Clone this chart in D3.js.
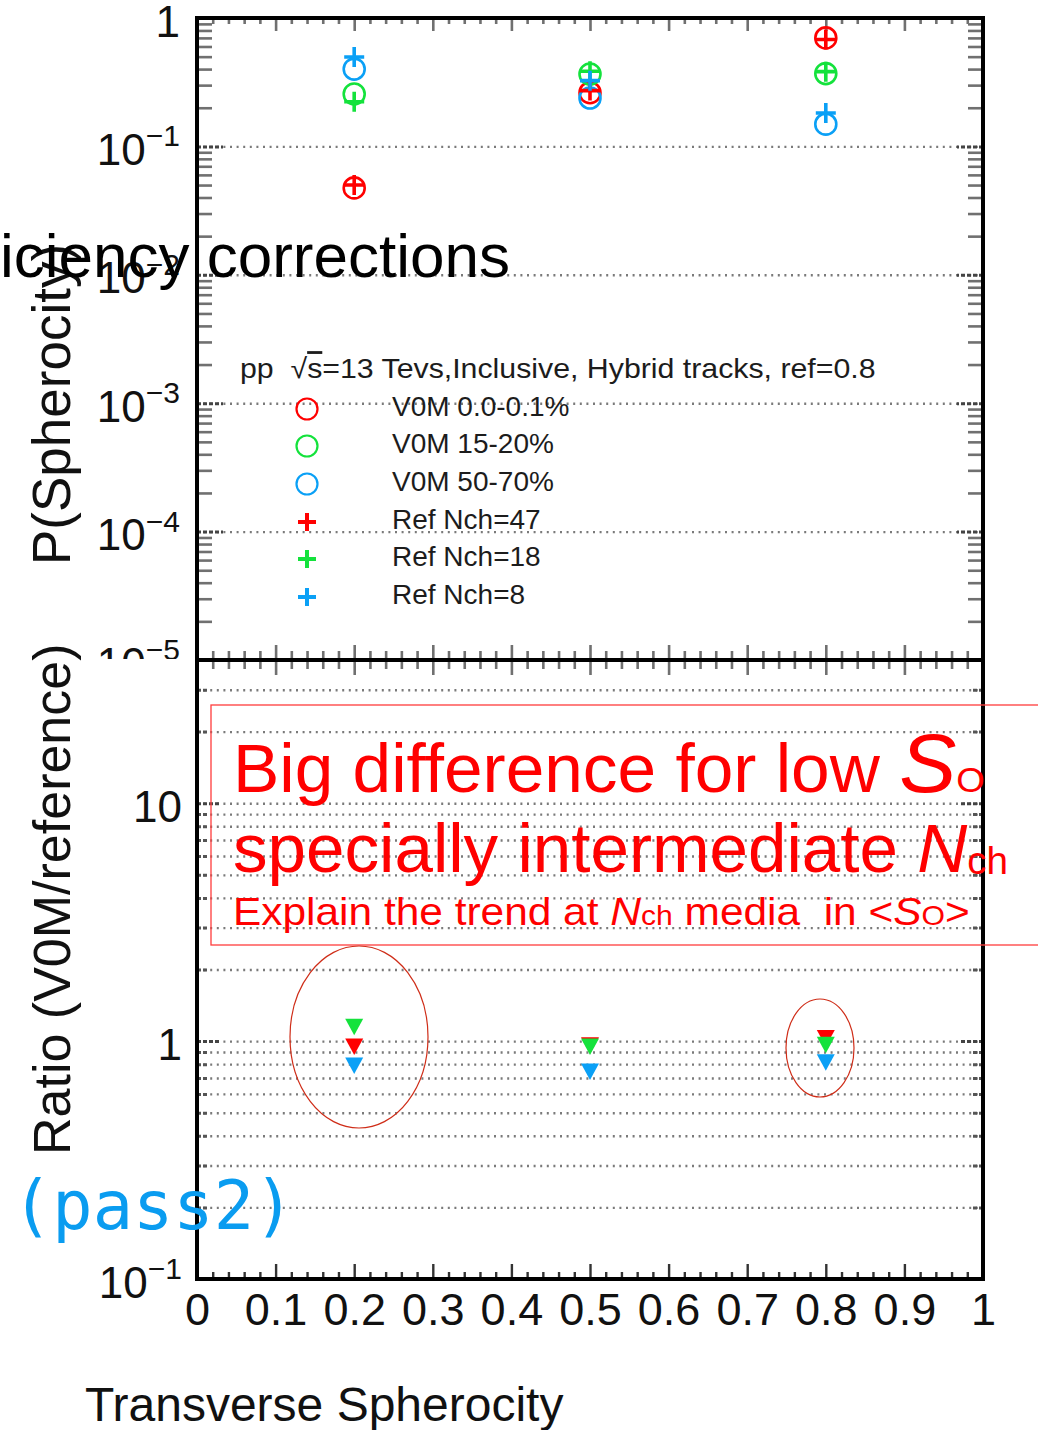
<!DOCTYPE html>
<html>
<head>
<meta charset="utf-8">
<script src="https://cdn.jsdelivr.net/npm/d3@7"></script>
<style>
  html, body { margin: 0; padding: 0; background: #fff; }
  svg { display: block; }
  text { font-family: "Liberation Sans", Arial, Helvetica, sans-serif; }
</style>
</head>
<body>
<svg id="chart" width="1038" height="1430"></svg>
<script>
// ---- data ----------------------------------------------------------------
const spherocity = [0.2, 0.5, 0.8];

// P(Spherocity) for the V0M multiplicity classes (open circles)
const pV0M_0_01  = [0.0475, 0.262, 0.700];
const pV0M_15_20 = [0.256, 0.366, 0.369];
const pV0M_50_70 = [0.400, 0.238, 0.149];

// P(Spherocity) for the reference Nch selections (crosses)
const pRefNch47 = [0.050, 0.272, 0.680];
const pRefNch18 = [0.223, 0.385, 0.382];
const pRefNch8  = [0.497, 0.325, 0.182];

// Ratio V0M / reference (full down triangles)
const ratio_0_01  = [0.95, 0.96, 1.03];
const ratio_15_20 = [1.15, 0.95, 0.966];
const ratio_50_70 = [0.79, 0.745, 0.815];

const legendHeader = "Tevs,Inclusive, Hybrid tracks, ref=0.8";
const v0mLabels = ["V0M 0.0-0.1%", "V0M 15-20%", "V0M 50-70%"];
const refLabels = ["Ref Nch=47", "Ref Nch=18", "Ref Nch=8"];

const xTickValues = [0, 0.1, 0.2, 0.3, 0.4, 0.5, 0.6, 0.7, 0.8, 0.9, 1];
const xTickLabels = ["0", "0.1", "0.2", "0.3", "0.4", "0.5", "0.6", "0.7", "0.8", "0.9", "1"];
const topDecades = [1e-5, 1e-4, 1e-3, 1e-2, 1e-1, 1];
const botDecades = [0.1, 1, 10];

// ---- layout & styles -----------------------------------------------------
const X0 = 197, X1 = 983, T0 = 18, T1 = 660, B1 = 1279;
const RED = "#ff0000", GREEN = "#14e23c", BLUE = "#0aa0f6";
const GRID = "#7a7a7a", TICK = "#707070";

const svg = d3.select("#chart");
const x = d3.scaleLinear().domain([0, 1]).range([X0, X1]);
const yTop = d3.scaleLog().domain([1e-5, 1]).range([T1, T0]);
const yBot = d3.scaleLog().domain([0.1, 40]).range([B1, T1]);

function minorsBetween(lo, hi) {
  const out = [];
  for (let e = Math.floor(Math.log10(lo)); e <= Math.ceil(Math.log10(hi)); e++) {
    for (let k = 2; k <= 9; k++) {
      const v = k * Math.pow(10, e);
      if (v > lo * 1.0001 && v < hi * 0.9999) out.push(v);
    }
  }
  return out;
}
const xMinor = d3.range(1, 50).map(i => i / 50).filter((v, i) => (i + 1) % 5 !== 0);

function styleTicks(g, color, width, dash) {
  g.select(".domain").remove();
  g.selectAll(".tick text").remove();
  g.selectAll(".tick line").attr("stroke", color).attr("stroke-width", width)
    .attr("stroke-dasharray", dash || null);
}
function addAxis(axis, tx, ty, color, width, dash) {
  return svg.append("g").attr("transform", `translate(${tx},${ty})`)
    .call(axis).call(g => styleTicks(g, color, width, dash));
}
function logLabels(axis, tx, fontSize, supSize) {
  svg.append("g").attr("transform", `translate(${tx},0)`).call(axis)
    .call(g => {
      g.attr("font-size", null).attr("font-family", null);
      g.select(".domain").remove();
      g.selectAll(".tick line").remove();
      g.selectAll(".tick text").each(function (d) {
        const t = d3.select(this);
        const e = Math.round(Math.log10(d));
        t.text(null).attr("font-size", fontSize).attr("fill", "#111").attr("dy", "0.41em");
        if (e === 0) t.text("1");
        else if (e === 1) t.text("10");
        else {
          t.append("tspan").text("10");
          t.append("tspan").attr("font-size", supSize).attr("dy", -0.42 * fontSize).text("\u2212" + (-e));
        }
      });
    });
}

// ---- top pad: P(Spherocity) ----------------------------------------------
// dotted grid at the decades
addAxis(d3.axisRight(yTop).tickValues(topDecades.slice(1, -1)).tickSize(X1 - X0).tickFormat(""),
        X0, 0, GRID, 2.4, "2,4.6");
// y ticks, left and right
const topMinor = minorsBetween(1e-5, 1);
addAxis(d3.axisRight(yTop).tickValues(topMinor).tickSize(15).tickFormat(""), X0, 0, TICK, 2.6);
addAxis(d3.axisRight(yTop).tickValues(topDecades).tickSize(26).tickFormat(""), X0, 0, "#444", 3, "4,2");
addAxis(d3.axisLeft(yTop).tickValues(topMinor).tickSize(15).tickFormat(""), X1, 0, TICK, 2.6);
addAxis(d3.axisLeft(yTop).tickValues(topDecades).tickSize(26).tickFormat(""), X1, 0, "#444", 3, "4,2");
// x ticks, top edge and bottom edge of the pad
addAxis(d3.axisBottom(x).tickValues(xTickValues).tickSize(13).tickFormat(""), 0, T0, TICK, 2.6);
addAxis(d3.axisBottom(x).tickValues(xMinor).tickSize(6).tickFormat(""), 0, T0, TICK, 2.6);
addAxis(d3.axisTop(x).tickValues(xTickValues).tickSize(15).tickFormat(""), 0, T1, TICK, 2.6);
addAxis(d3.axisTop(x).tickValues(xMinor).tickSize(9).tickFormat(""), 0, T1, TICK, 2.6);
// y labels
logLabels(d3.axisLeft(yTop).tickValues(topDecades).tickSize(0).tickPadding(17), X0, 44, 30);

// markers
const crossPath = s => `M${-s},0H${s}M0,${-s}V${s}`;
const circleSeries = [[pV0M_0_01, RED], [pV0M_15_20, GREEN], [pV0M_50_70, BLUE]];
const crossSeries  = [[pRefNch47, RED], [pRefNch18, GREEN], [pRefNch8, BLUE]];
circleSeries.forEach(([vals, col]) => {
  svg.append("g").selectAll("circle").data(vals).join("circle")
    .attr("cx", (d, i) => x(spherocity[i])).attr("cy", d => yTop(d))
    .attr("r", 10.5).attr("fill", "none").attr("stroke", col).attr("stroke-width", 2.6);
});
crossSeries.forEach(([vals, col]) => {
  svg.append("g").selectAll("path").data(vals).join("path")
    .attr("transform", (d, i) => `translate(${x(spherocity[i])},${yTop(d)})`)
    .attr("d", crossPath(10)).attr("fill", "none").attr("stroke", col).attr("stroke-width", 3.6);
});

// legend
const leg = svg.append("g");
const head = leg.append("text").attr("x", 240).attr("y", 378).attr("font-size", 28)
  .attr("fill", "#1c1c1c").style("white-space", "pre");
head.append("tspan").text("pp  \u221A");
head.append("tspan").style("text-decoration", "overline").text("s");
head.append("tspan").text("=13 " + legendHeader);
(function fit() {
  const w = head.node().getBBox().width;
  const k = (876 - 240) / w;
  head.attr("transform", `translate(240,0) scale(${k},1) translate(-240,0)`);
})();
const legRows = [409, 446, 484, 522, 559, 597];
const legItems = v0mLabels.map((t, i) => ({ t, col: [RED, GREEN, BLUE][i], kind: "circle" }))
  .concat(refLabels.map((t, i) => ({ t, col: [RED, GREEN, BLUE][i], kind: "cross" })));
legItems.forEach((it, i) => {
  const cy = legRows[i];
  if (it.kind === "circle") {
    leg.append("circle").attr("cx", 307).attr("cy", cy).attr("r", 10.5)
      .attr("fill", "none").attr("stroke", it.col).attr("stroke-width", 2.2);
  } else {
    leg.append("path").attr("transform", `translate(307,${cy})`).attr("d", crossPath(9))
      .attr("fill", "none").attr("stroke", it.col).attr("stroke-width", 4);
  }
  leg.append("text").attr("x", 392).attr("y", cy + 6.5).attr("font-size", 28)
    .attr("fill", "#1c1c1c").text(it.t);
});

// frame
svg.append("rect").attr("x", X0).attr("y", T0).attr("width", X1 - X0).attr("height", T1 - T0)
  .attr("fill", "none").attr("stroke", "#000").attr("stroke-width", 4);

// y title
svg.append("text").attr("transform", "translate(70,565) rotate(-90)")
  .attr("font-size", 53).attr("fill", "#111").text("P(Spherocity)");

// ---- bottom pad: ratio ---------------------------------------------------
svg.append("rect").attr("x", 0).attr("y", T1 - 1).attr("width", 1038).attr("height", 1430 - T1 + 1)
  .attr("fill", "#fff");

const botMinor = minorsBetween(0.1, 40);
addAxis(d3.axisRight(yBot).tickValues(botMinor.concat([1, 10])).tickSize(X1 - X0).tickFormat(""),
        X0, 0, GRID, 2.4, "2,4.6");
addAxis(d3.axisRight(yBot).tickValues(botMinor).tickSize(10).tickFormat(""), X0, 0, "#555", 3, "4,2");
addAxis(d3.axisRight(yBot).tickValues([1, 10]).tickSize(24).tickFormat(""), X0, 0, "#444", 3, "4,2");
addAxis(d3.axisLeft(yBot).tickValues(botMinor).tickSize(10).tickFormat(""), X1, 0, "#555", 3, "4,2");
addAxis(d3.axisLeft(yBot).tickValues([1, 10]).tickSize(24).tickFormat(""), X1, 0, "#444", 3, "4,2");
addAxis(d3.axisBottom(x).tickValues(xTickValues).tickSize(15).tickFormat(""), 0, T1, TICK, 2.6);
addAxis(d3.axisBottom(x).tickValues(xMinor).tickSize(9).tickFormat(""), 0, T1, TICK, 2.6);
addAxis(d3.axisTop(x).tickValues(xTickValues).tickSize(15).tickFormat(""), 0, B1, "#333", 2.4);
addAxis(d3.axisTop(x).tickValues(xMinor).tickSize(7).tickFormat(""), 0, B1, "#333", 2.4);
logLabels(d3.axisLeft(yBot).tickValues(botDecades).tickSize(0).tickPadding(15), X0, 44, 30);

// triangles
const triDown = "M-9,-8L9,-8L0,8.5Z";
[[ratio_0_01, RED], [ratio_15_20, GREEN], [ratio_50_70, BLUE]].forEach(([vals, col]) => {
  svg.append("g").selectAll("path").data(vals).join("path")
    .attr("transform", (d, i) => `translate(${x(spherocity[i])},${yBot(d)})`)
    .attr("d", triDown).attr("fill", col);
});

svg.append("rect").attr("x", X0).attr("y", T1).attr("width", X1 - X0).attr("height", B1 - T1)
  .attr("fill", "none").attr("stroke", "#000").attr("stroke-width", 4);

// x labels
svg.append("g").attr("transform", `translate(0,${B1})`)
  .call(d3.axisBottom(x).tickValues(xTickValues).tickSize(0).tickPadding(14)
        .tickFormat((d, i) => xTickLabels[i]))
  .call(g => {
    g.attr("font-size", null).attr("font-family", null);
    g.select(".domain").remove();
    g.selectAll(".tick text").attr("font-size", 45).attr("fill", "#111");
  });

svg.append("text").attr("x", 85).attr("y", 1421).attr("font-size", 48).attr("fill", "#111")
  .text("Transverse Spherocity");
svg.append("text").attr("transform", "translate(70,1155) rotate(-90)")
  .attr("font-size", 52).attr("fill", "#111").text("Ratio (V0M/reference)");

// ---- annotations ---------------------------------------------------------
svg.append("rect").attr("x", 211).attr("y", 705).attr("width", 900).attr("height", 240)
  .attr("fill", "none").attr("stroke", "#ff3c3c").attr("stroke-width", 1.3);

function fitLine(t, x0, x1) {
  const w = t.node().getComputedTextLength();
  const k = (x1 - x0) / w;
  t.attr("transform", `translate(${x0},0) scale(${k},1) translate(${-x0},0)`);
}
const note = svg.append("g").attr("fill", RED);
const l1 = note.append("text").attr("x", 233).attr("y", 792).attr("font-size", 68).style("white-space", "pre");
l1.append("tspan").text("Big difference for low ");
l1.append("tspan").attr("font-style", "italic").attr("font-size", 84).text("S");
l1.append("tspan").attr("font-size", 36).text("O");
fitLine(l1, 233, 985);

const l2 = note.append("text").attr("x", 233).attr("y", 872).attr("font-size", 68).style("white-space", "pre");
l2.append("tspan").text("specially intermediate ");
l2.append("tspan").attr("font-style", "italic").text("N");
l2.append("tspan").attr("font-size", 38).attr("dy", 2).text("ch");
fitLine(l2, 233, 1008);

const l3 = note.append("text").attr("x", 233).attr("y", 925).attr("font-size", 38).style("white-space", "pre");
l3.append("tspan").text("Explain the trend at ");
l3.append("tspan").attr("font-style", "italic").text("N");
l3.append("tspan").attr("font-size", 27).text("ch");
l3.append("tspan").text(" media  in <");
l3.append("tspan").attr("font-style", "italic").text("S");
l3.append("tspan").attr("font-size", 27).text("O");
l3.append("tspan").text(">");
fitLine(l3, 233, 970);

svg.append("ellipse").attr("cx", 359).attr("cy", 1037).attr("rx", 69).attr("ry", 91)
  .attr("fill", "none").attr("stroke", "#cf2d18").attr("stroke-width", 1.2);
svg.append("ellipse").attr("cx", 820).attr("cy", 1048).attr("rx", 34).attr("ry", 49)
  .attr("fill", "none").attr("stroke", "#cf2d18").attr("stroke-width", 1.2);

svg.append("text").attr("x", 12).attr("y", 1229)
  .style("font-family", "'DejaVu Sans Mono', monospace").style("font-size", "67px")
  .attr("fill", "#0a9cf0").text("(pass2)");

svg.append("text").attr("x", 0).attr("y", 277).attr("font-size", 62).attr("fill", "#000")
  .text("iciency corrections");
</script>
</body>
</html>
